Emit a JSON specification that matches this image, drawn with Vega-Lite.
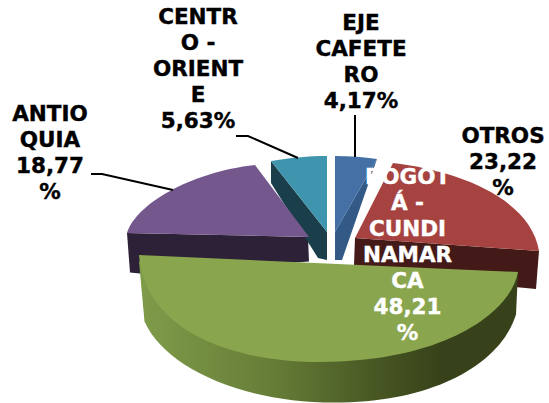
{"$schema":"https://vega.github.io/schema/vega-lite/v6.json","width":549,"height":403,"padding":0,"autosize":{"type":"fit","contains":"padding"},"background":"white","view":{"stroke":null},"config":{"legend":{"disable":true}},
"data":{"values":[
{"slice":"ANTIOQUIA","share":18.77,"label":"ANTIO\nQUIA\n18,77\n%"},
{"slice":"CENTRO - ORIENTE","share":5.63,"label":"CENTR\nO -\nORIENT\nE\n5,63%"},
{"slice":"EJE CAFETERO","share":4.17,"label":"EJE\nCAFETE\nRO\n4,17%"},
{"slice":"OTROS","share":23.22,"label":"OTROS\n23,22\n%"},
{"slice":"BOGOTÁ - CUNDINAMARCA","share":48.21,"label":"BOGOT\nÁ -\nCUNDI\nNAMAR\nCA\n48,21\n%"}]},
"layer":[
{"transform":[{"filter":"datum.slice !== 'BOGOTÁ - CUNDINAMARCA'"}],"mark":{"type":"point","filled":true,"opacity":1,"size":4,"strokeWidth":0},"encoding":{
"shape":{"field":"slice","type":"nominal","sort":null,"scale":{"domain":["ANTIOQUIA","CENTRO - ORIENTE","EJE CAFETERO","OTROS"],"range":["M-147.5,31.5 L33.5,35.5 L34.5,60 L-134.5,72 L-144.5,71 Z","M-3.5,-40.5 L52.5,30.5 L52.5,58.5 L43.5,56.5 L-3.5,-18.5 Z","M102.5,-42.5 L67.5,58.5 L60.5,58.5 L60.5,30.5 Z","M80.5,36.5 L264.5,49.5 L261.5,87.5 L240.5,85.5 L79.5,63.5 Z"]}},
"fill":{"field":"slice","type":"nominal","scale":{"domain":["ANTIOQUIA","CENTRO - ORIENTE","EJE CAFETERO","OTROS"],"range":["#2d2138","#1a3f4b","#335a87","#431a17"]}}}},
{"transform":[{"filter":"datum.slice !== 'BOGOTÁ - CUNDINAMARCA'"}],"mark":{"type":"point","filled":true,"opacity":1,"size":4,"strokeWidth":0},"encoding":{
"shape":{"field":"slice","type":"nominal","scale":{"domain":["ANTIOQUIA","CENTRO - ORIENTE","EJE CAFETERO","OTROS"],"range":["M-19.5,-36.5 L34.5,35.5 L-147.5,31.5 C-139.5,3.5 -84.5,-29.5 -19.5,-36.5 Z","M-3.5,-40.5 C14,-43.5 34,-45.5 52.5,-45.5 L52.5,30.5 Z","M60.5,-45.5 C75.5,-45.5 89.5,-44.5 102.5,-42.5 L60.5,30.5 Z","M118.5,-38.5 L80.5,36.5 L264.5,49.5 C255.5,-4.5 180.5,-31.5 118.5,-38.5 Z"]}},
"fill":{"field":"slice","type":"nominal","scale":{"domain":["ANTIOQUIA","CENTRO - ORIENTE","EJE CAFETERO","OTROS"],"range":["#74578d","#4095ae","#4470a6","#a64341"]}}}},
{"transform":[{"filter":"datum.slice === 'BOGOTÁ - CUNDINAMARCA'"}],"mark":{"type":"point","filled":true,"opacity":1,"size":4,"strokeWidth":0,"fill":{"gradient":"linear","x1":0,"x2":1,"y1":0,"y2":0,"stops":[{"offset":0,"color":"#7f9c4a"},{"offset":0.35,"color":"#667d37"},{"offset":0.68,"color":"#42501f"},{"offset":0.8,"color":"#37421a"},{"offset":1,"color":"#37421a"}]}},"encoding":{
"shape":{"field":"slice","type":"nominal","scale":{"domain":["BOGOTÁ - CUNDINAMARCA"],"range":["M-135.5,60 L-130,120 C-110,165 -35,201 60,201 C155,201 225,165 241.5,113 L243.5,70.5 Z"]}}}},
{"transform":[{"filter":"datum.slice === 'BOGOTÁ - CUNDINAMARCA'"}],"mark":{"type":"point","filled":true,"opacity":1,"size":4,"strokeWidth":0,"fill":"#89a54e"},"encoding":{
"shape":{"field":"slice","type":"nominal","scale":{"domain":["BOGOTÁ - CUNDINAMARCA"],"range":["M-135.5,53.5 L243.5,70.5 C235.5,113.5 165.5,160.5 45.5,160.5 C-44.5,160.5 -129.5,128.5 -135.5,53.5 Z"]}}}},
{"transform":[{"filter":"datum.share < 20"}],"mark":{"type":"point","filled":false,"opacity":1,"size":4,"stroke":"#000000","strokeWidth":2},"encoding":{
"shape":{"field":"slice","type":"nominal","scale":{"domain":["ANTIOQUIA","CENTRO - ORIENTE","EJE CAFETERO"],"range":["M-183.5,-27.5 L-172.5,-27.5 L-101.5,-11.5","M-38.5,-65.5 L-26.5,-65.5 L23.5,-43.5","M80.5,-86.5 L80.5,-44.5"]}}}},
{"transform":[{"filter":"datum.slice === 'ANTIOQUIA'"}],"mark":{"type":"text","font":"DejaVu Sans","fontWeight":"bold","fontSize":21.5,"lineHeight":26,"lineBreak":"\n","align":"center","baseline":"middle","dx":-224.5,"dy":-86.5,"color":"#000000","stroke":"#000000","strokeWidth":0.4},"encoding":{"text":{"field":"label","type":"nominal"}}},
{"transform":[{"filter":"datum.slice === 'CENTRO - ORIENTE'"}],"mark":{"type":"text","font":"DejaVu Sans","fontWeight":"bold","fontSize":21.5,"lineHeight":26,"lineBreak":"\n","align":"center","baseline":"middle","dx":-76.5,"dy":-183.5,"color":"#000000","stroke":"#000000","strokeWidth":0.4},"encoding":{"text":{"field":"label","type":"nominal"}}},
{"transform":[{"filter":"datum.slice === 'EJE CAFETERO'"}],"mark":{"type":"text","font":"DejaVu Sans","fontWeight":"bold","fontSize":21.5,"lineHeight":26,"lineBreak":"\n","align":"center","baseline":"middle","dx":86.5,"dy":-177.5,"color":"#000000","stroke":"#000000","strokeWidth":0.4},"encoding":{"text":{"field":"label","type":"nominal"}}},
{"transform":[{"filter":"datum.slice === 'OTROS'"}],"mark":{"type":"text","font":"DejaVu Sans","fontWeight":"bold","fontSize":21.5,"lineHeight":26,"lineBreak":"\n","align":"center","baseline":"middle","dx":228.5,"dy":-64.5,"color":"#000000","stroke":"#000000","strokeWidth":0.4},"encoding":{"text":{"field":"label","type":"nominal"}}},
{"transform":[{"filter":"datum.slice === 'BOGOTÁ - CUNDINAMARCA'"}],"mark":{"type":"text","font":"DejaVu Sans","fontWeight":"bold","fontSize":21.5,"lineHeight":26,"lineBreak":"\n","align":"center","baseline":"middle","dx":133,"dy":-23.5,"color":"#ffffff","stroke":"#ffffff","strokeWidth":0.4},"encoding":{"text":{"field":"label","type":"nominal"}}}
],
"resolve":{"scale":{"shape":"independent","fill":"independent"}}}
